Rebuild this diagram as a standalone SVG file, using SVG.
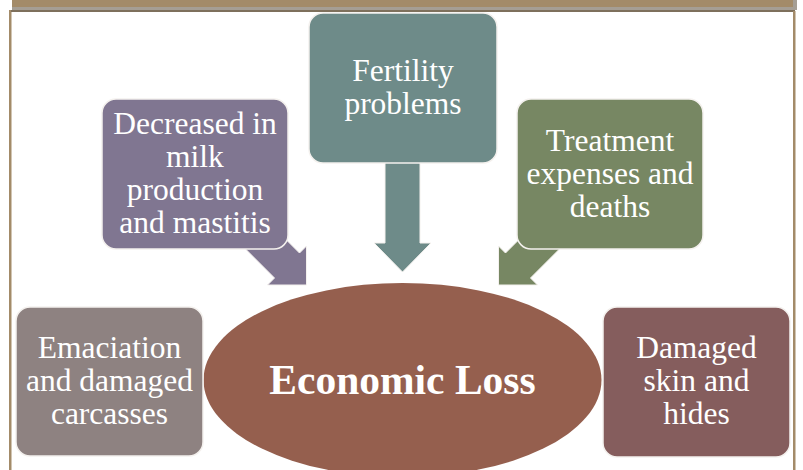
<svg xmlns="http://www.w3.org/2000/svg" width="803" height="470" viewBox="0 0 803 470">
<style>
.box{stroke:#f4f1ee;stroke-width:1.5}
.arr{stroke:#f4f1ee;stroke-width:1}
.t{font-family:"Liberation Serif","Times New Roman",serif;font-size:31.5px;fill:#ffffff;text-anchor:middle}
.big{font-family:"Liberation Serif","Times New Roman",serif;font-size:41.5px;font-weight:bold;fill:#ffffff;text-anchor:middle}
</style>
<rect width="803" height="470" fill="#ffffff"/>
<g id="frame">
<rect x="12" y="0" width="781" height="7" fill="#A38B69"/>
<rect x="12" y="7" width="785" height="3" fill="#A59E94"/>
<rect x="793" y="0" width="4" height="10" fill="#A59E94"/>
<rect x="9" y="10" width="2.5" height="460" fill="#A38B69"/>
<rect x="11" y="10" width="784" height="2" fill="#7E705C"/>
<rect x="793" y="11" width="2.5" height="459" fill="#A38B69"/>
</g>
<g id="connectors">
<polygon class="arr" fill="#807691" points="213.25,216.75 274.5,278 267.5,285 306.5,285 306.5,246 299.5,253 238.25,191.75"/>
<polygon class="arr" fill="#6E8B89" points="385,150 420,150 420,243 431,243 402.5,272 374,243 385,243"/>
<polygon class="arr" fill="#778763" points="591.75,216.75 530.5,278 537.5,285 498.5,285 498.5,246 505.5,253 566.75,191.75"/>
</g>
<g id="fertility">
<rect class="box" x="309" y="13" width="188" height="150" rx="14" fill="#6E8B89"/>
<text class="t" x="403" y="81">Fertility</text>
<text class="t" x="403" y="114">problems</text>
</g>
<g id="decreased">
<rect class="box" x="102" y="99" width="186" height="150" rx="14" fill="#807691"/>
<text class="t" x="195" y="134">Decreased in</text>
<text class="t" x="195" y="167">milk</text>
<text class="t" x="195" y="200">production</text>
<text class="t" x="195" y="233">and mastitis</text>
</g>
<g id="treatment">
<rect class="box" x="517" y="99" width="186" height="150" rx="14" fill="#778763"/>
<text class="t" x="610" y="151">Treatment</text>
<text class="t" x="610" y="184">expenses and</text>
<text class="t" x="610" y="217">deaths</text>
</g>
<g id="economic-loss">
<ellipse cx="402.5" cy="380" rx="199" ry="97" fill="#955F4E"/>
<text class="big" x="402.5" y="394">Economic Loss</text>
</g>
<g id="emaciation">
<rect class="box" x="16" y="307" width="187" height="149" rx="14" fill="#8E8281"/>
<text class="t" x="109.5" y="358">Emaciation</text>
<text class="t" x="109.5" y="391">and damaged</text>
<text class="t" x="109.5" y="424">carcasses</text>
</g>
<g id="damaged">
<rect class="box" x="603" y="307" width="187" height="150" rx="14" fill="#855D5D"/>
<text class="t" x="696.5" y="358">Damaged</text>
<text class="t" x="696.5" y="391">skin and</text>
<text class="t" x="696.5" y="424">hides</text>
</g>
</svg>
